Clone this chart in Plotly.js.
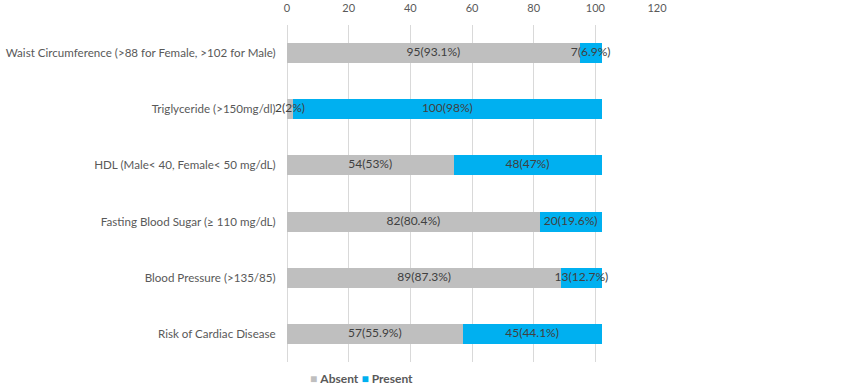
<!DOCTYPE html>
<html>
<head>
<meta charset="utf-8">
<script src="https://cdn.plot.ly/plotly-3.0.1.min.js"></script>
<style>html,body{margin:0;padding:0;background:#fff;}#chart{width:861px;height:386px;}</style>
</head>
<body>
<div id="chart"></div>
<script>
const categories = [
  "Waist Circumference (>88 for Female, >102 for Male)",
  "Triglyceride (>150mg/dl)",
  "HDL (Male< 40, Female< 50 mg/dL)",
  "Fasting Blood Sugar (≥ 110 mg/dL)",
  "Blood Pressure (>135/85)",
  "Risk of Cardiac Disease"
];
const absentValues = [95, 2, 54, 82, 89, 57];
const absentPct = ["93.1%", "2%", "53%", "80.4%", "87.3%", "55.9%"];
const presentValues = [7, 100, 48, 20, 13, 45];
const presentPct = ["6.9%", "98%", "47%", "19.6%", "12.7%", "44.1%"];
const xTicks = [0, 20, 40, 60, 80, 100, 120];

const FONT = "Lato, 'Open Sans', sans-serif";
const absentColor = "#BFBFBF";
const presentColor = "#00B0F0";

const absentLabels = absentValues.map((v, i) => v + "(" + absentPct[i] + ")");
const presentLabels = presentValues.map((v, i) => v + "(" + presentPct[i] + ")");
const absentMid = absentValues.map(v => v / 2);
const presentMid = presentValues.map((v, i) => absentValues[i] + v / 2);

const traces = [
  {type: "bar", orientation: "h", name: "Absent", y: categories, x: absentValues,
   marker: {color: absentColor}, hoverinfo: "skip", showlegend: false},
  {type: "bar", orientation: "h", name: "Present", y: categories, x: presentValues,
   marker: {color: presentColor}, hoverinfo: "skip", showlegend: false},
  {type: "scatter", mode: "text", y: categories, x: absentMid, text: absentLabels,
   textposition: "middle center", textfont: {family: FONT, size: 12, color: "#404040"},
   showlegend: false, hoverinfo: "skip", cliponaxis: false},
  {type: "scatter", mode: "text", y: categories, x: presentMid, text: presentLabels,
   textposition: "middle center", textfont: {family: FONT, size: 12, color: "#404040"},
   showlegend: false, hoverinfo: "skip", cliponaxis: false}
];

const layout = {
  width: 861, height: 386,
  margin: {l: 287, r: 204, t: 25, b: 24, autoexpand: false},
  paper_bgcolor: "#fff", plot_bgcolor: "#fff",
  barmode: "stack", bargap: 0.645,
  font: {family: FONT, size: 12, color: "#595959"},
  xaxis: {
    side: "top", range: [0, 120], tickvals: xTicks, ticktext: xTicks.map(String),
    showgrid: true, gridcolor: "#D9D9D9", gridwidth: 1,
    zeroline: true, zerolinecolor: "#D9D9D9", zerolinewidth: 1,
    showline: false, ticks: "", ticklabelstandoff: 10, automargin: false, fixedrange: true,
    tickfont: {family: FONT, size: 11, color: "#595959"}
  },
  yaxis: {
    type: "category", autorange: "reversed", showgrid: false, zeroline: false,
    showline: false, ticks: "outside", ticklen: 8, tickcolor: "rgba(0,0,0,0)",
    automargin: false,
    tickfont: {family: FONT, size: 11.6, color: "#595959"}, fixedrange: true
  },
  showlegend: false,
  annotations: [
    {xref: "paper", yref: "paper", x: (361 - 287) / 370, y: -0.048, xanchor: "center", yanchor: "middle",
     showarrow: false,
     text: "<span style='color:" + absentColor + "'>■</span> <b>Absent</b> <span style='color:" + presentColor + "'>■</span> <b>Present</b>",
     font: {family: FONT, size: 12, color: "#595959"}}
  ]
};

Plotly.newPlot("chart", traces, layout, {displayModeBar: false, staticPlot: true});
</script>
</body>
</html>
